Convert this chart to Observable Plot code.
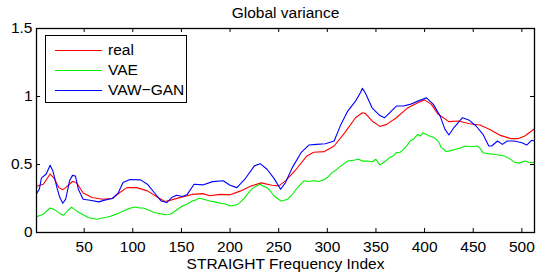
<!DOCTYPE html>
<html>
<head>
<meta charset="utf-8">
<script src="https://cdn.jsdelivr.net/npm/d3@7"></script>
<script src="https://cdn.jsdelivr.net/npm/@observablehq/plot@0.6"></script>
<style>
  html, body { margin: 0; padding: 0; background: #fff; }
  #wrap { position: relative; width: 542px; height: 275px; font-family: "Liberation Sans", Arial, sans-serif; }
  #legend { position: absolute; left: 45px; top: 35px; width: 140px; height: 66px; border: 1px solid #000; background: #fff; font-size: 15.5px; }
  .row { position: absolute; left: 0; height: 20px; display: flex; align-items: center; }
  .sw { display: inline-block; width: 47px; height: 0; border-top: 1px solid; margin-left: 9px; margin-right: 6px; }
</style>
</head>
<body>
<div id="wrap"></div>
<script>
const title = "Global variance";
const xLabel = "STRAIGHT Frequency Index";
const seriesNames = ["real", "VAE", "VAW\u2212GAN"];
const seriesColors = ["#ff0000", "#00f000", "#0000ff"];
const xTicks = [50, 100, 150, 200, 250, 300, 350, 400, 450, 500];
const yTicks = [0, 0.5, 1, 1.5];
const yTickLabels = ["0", "0.5", "1", "1.5"];

const realX = [1,8,15,19,24,28,31,38,42,49,58,69,79,86,94,104,115,126,133,140,151,161,172,179,190,200,211,222,232,243,250,257,268,279,286,297,307,318,329,336,339,346,354,361,371,382,393,400,407,414,425,435,446,457,467,478,489,496,503,510,513];
const realY = [0.34,0.355,0.43,0.40,0.33,0.315,0.33,0.375,0.367,0.29,0.257,0.245,0.25,0.29,0.33,0.33,0.306,0.257,0.228,0.24,0.262,0.28,0.286,0.27,0.28,0.277,0.306,0.343,0.365,0.347,0.343,0.38,0.465,0.563,0.59,0.595,0.636,0.734,0.844,0.88,0.876,0.82,0.78,0.795,0.844,0.913,0.954,0.975,0.942,0.869,0.815,0.82,0.80,0.79,0.758,0.714,0.69,0.69,0.71,0.746,0.763];

const vaeX = [1,8,15,19,22,26,29,33,37,40,44,49,54,58,63,67,72,77,83,88,94,98,102,107,111,116,122,127,133,137,140,145,151,156,161,165,168,173,179,184,190,195,200,204,207,211,215,220,224,228,231,234,238,242,245,249,252,255,259,263,268,272,276,281,286,291,297,301,305,309,314,318,321,326,332,336,341,346,350,354,359,364,368,371,375,378,382,385,389,393,396,398,402,405,409,412,415,417,420,422,426,431,436,442,448,454,457,460,465,471,476,482,487,492,497,503,508,513];
const vaeY = [0.115,0.135,0.18,0.17,0.155,0.135,0.127,0.16,0.187,0.17,0.15,0.13,0.11,0.105,0.098,0.105,0.11,0.12,0.135,0.15,0.17,0.18,0.187,0.18,0.18,0.165,0.147,0.14,0.13,0.132,0.14,0.165,0.195,0.21,0.232,0.24,0.252,0.245,0.232,0.225,0.215,0.21,0.195,0.2,0.203,0.225,0.257,0.3,0.33,0.345,0.355,0.34,0.33,0.3,0.27,0.25,0.232,0.235,0.245,0.27,0.318,0.35,0.38,0.375,0.38,0.375,0.39,0.41,0.44,0.46,0.49,0.51,0.526,0.53,0.538,0.525,0.526,0.52,0.538,0.497,0.52,0.55,0.565,0.587,0.59,0.61,0.64,0.673,0.69,0.722,0.71,0.734,0.72,0.71,0.7,0.685,0.66,0.624,0.61,0.595,0.60,0.61,0.62,0.636,0.63,0.636,0.62,0.587,0.58,0.575,0.57,0.563,0.545,0.519,0.51,0.526,0.515,0.514];

const ganX = [1,4,6,11,15,18,22,25,28,31,35,38,41,44,49,56,65,72,79,85,90,97,108,115,122,129,135,140,145,151,156,163,172,182,193,200,207,215,225,231,238,245,252,257,264,273,281,289,298,307,314,321,329,334,336,339,346,354,359,364,371,378,385,393,402,409,416,421,425,430,439,446,453,460,466,469,475,480,485,492,500,505,510,513];
const ganY = [0.286,0.32,0.40,0.43,0.494,0.45,0.33,0.257,0.215,0.245,0.38,0.42,0.416,0.318,0.245,0.237,0.225,0.24,0.25,0.29,0.367,0.39,0.387,0.355,0.294,0.232,0.22,0.257,0.274,0.265,0.28,0.355,0.35,0.374,0.38,0.347,0.33,0.39,0.49,0.506,0.465,0.40,0.318,0.367,0.477,0.587,0.643,0.648,0.653,0.673,0.795,0.893,0.966,1.028,1.06,1.028,0.917,0.86,0.844,0.88,0.93,0.93,0.942,0.966,0.99,0.942,0.856,0.758,0.717,0.77,0.844,0.825,0.783,0.722,0.636,0.636,0.673,0.648,0.673,0.673,0.66,0.643,0.678,0.673];

const rows = [];
realX.forEach((x, i) => rows.push({s: seriesNames[0], x, y: realY[i]}));
vaeX.forEach((x, i) => rows.push({s: seriesNames[1], x, y: vaeY[i]}));
ganX.forEach((x, i) => rows.push({s: seriesNames[2], x, y: ganY[i]}));

const W = 542, H = 275, mL = 36, mR = 8, mT = 28, mB = 43;
const pw = W - mL - mR, ph = H - mT - mB, tk = 4;
const font = "Liberation Sans, Arial, sans-serif";
const fs = 15.5;

const chart = Plot.plot({
  width: W, height: H,
  marginLeft: mL, marginRight: mR, marginTop: mT, marginBottom: mB,
  style: {fontFamily: font, fontSize: fs + "px", background: "#fff", color: "#000"},
  x: {domain: [1, 513]},
  y: {domain: [0, 1.5]},
  color: {domain: seriesNames, range: seriesColors},
  marks: [
    Plot.line(rows, {x: "x", y: "y", z: "s", stroke: "s", strokeWidth: 1.1}),
    Plot.tickX(xTicks, {x: d => d, insetTop: ph - tk, stroke: "#000"}),
    Plot.tickX(xTicks, {x: d => d, insetBottom: ph - tk, stroke: "#000"}),
    Plot.tickY(yTicks, {y: d => d, insetRight: pw - tk, stroke: "#000"}),
    Plot.tickY(yTicks, {y: d => d, insetLeft: pw - tk, stroke: "#000"}),
    Plot.frame({stroke: "#000", strokeWidth: 1.3}),
    Plot.axisX(xTicks, {tickSize: 0, tickPadding: 8, label: null, fontSize: fs}),
    Plot.axisY(yTicks, {tickSize: 0, tickPadding: 4, label: null, fontSize: fs, tickFormat: (d, i) => yTickLabels[i]}),
    Plot.text([title], {frameAnchor: "top", lineAnchor: "top", dy: -22, fontSize: fs, text: d => d}),
    Plot.text([xLabel], {frameAnchor: "bottom", lineAnchor: "top", dy: 25, fontSize: fs, text: d => d})
  ]
});
const wrap = document.getElementById("wrap");
wrap.appendChild(chart);

const legend = document.createElement("div");
legend.id = "legend";
seriesNames.forEach((n, i) => {
  const r = document.createElement("div");
  r.className = "row";
  r.style.top = (4 + i * 20) + "px";
  const sw = document.createElement("span");
  sw.className = "sw";
  sw.style.borderTopColor = seriesColors[i];
  const t = document.createElement("span");
  t.textContent = n;
  r.appendChild(sw); r.appendChild(t);
  legend.appendChild(r);
});
wrap.appendChild(legend);
</script>
</body>
</html>
